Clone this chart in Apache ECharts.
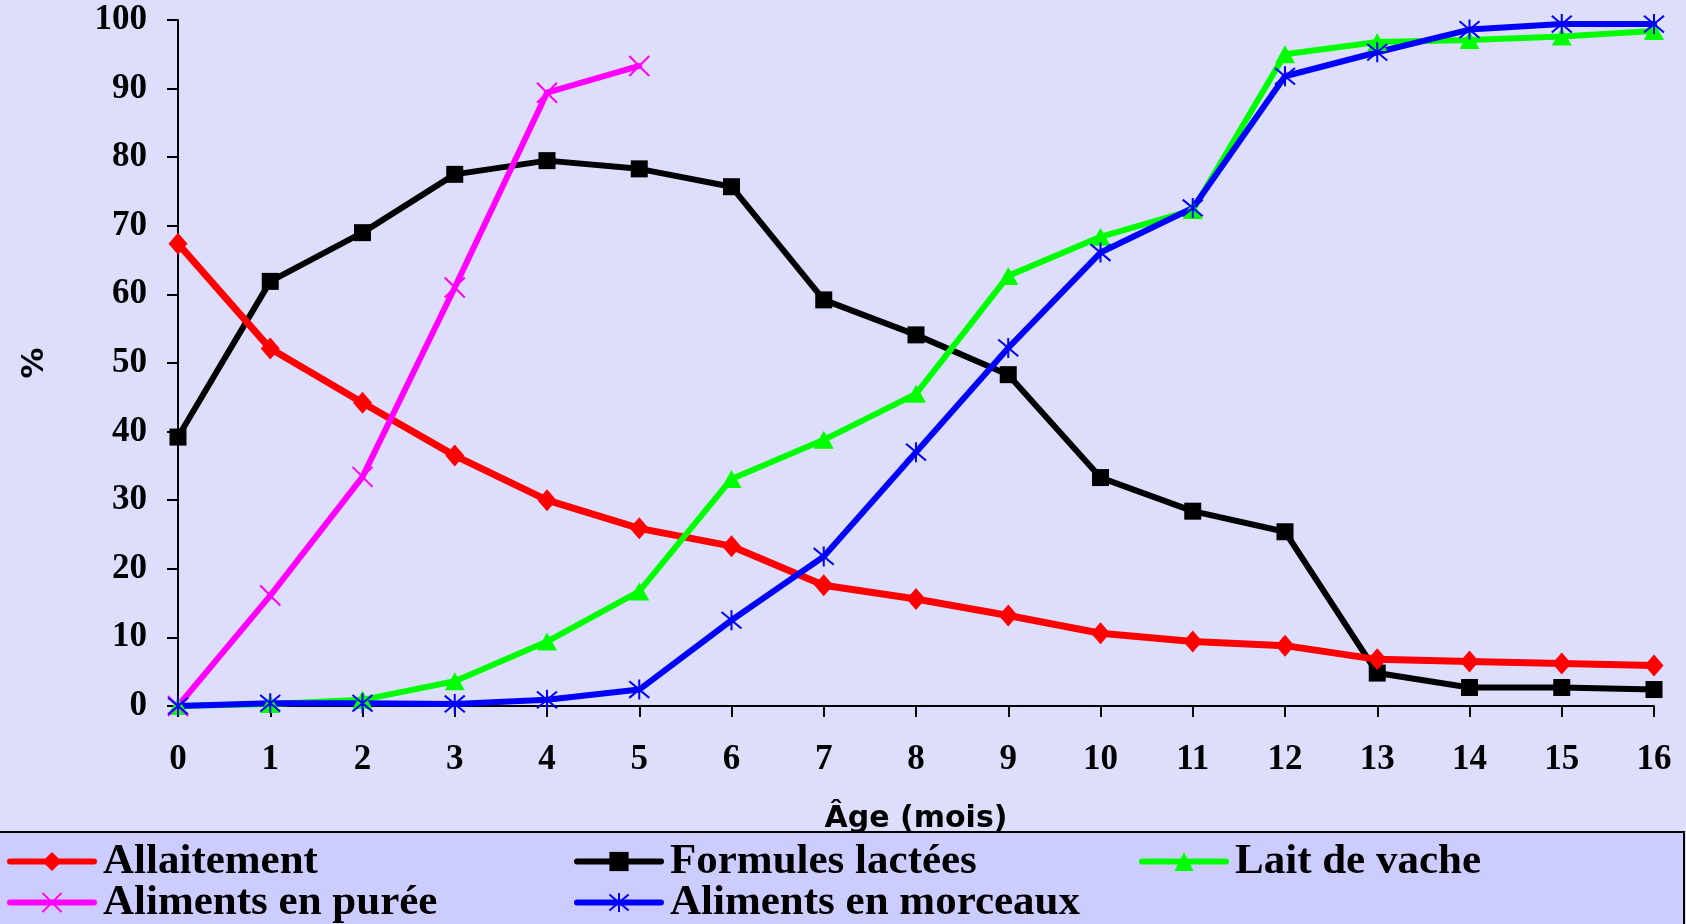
<!DOCTYPE html>
<html>
<head>
<meta charset="utf-8">
<script src="https://cdn.jsdelivr.net/npm/echarts@6/dist/echarts.min.js"></script>
<style>
  html, body { margin: 0; padding: 0; background: #dcdefc; }
  #chart { width: 1686px; height: 924px; }
</style>
</head>
<body>
<div id="chart"></div>
<script>
// mois 0..16
var ages = ['0','1','2','3','4','5','6','7','8','9','10','11','12','13','14','15','16'];

var allaitement = [67.4, 52.1, 44.2, 36.5, 30.0, 25.9, 23.3, 17.6, 15.6, 13.2, 10.6, 9.4, 8.8, 6.8, 6.5, 6.2, 5.9];
var formules    = [39.2, 61.9, 69.0, 77.5, 79.5, 78.3, 75.7, 59.2, 54.1, 48.3, 33.3, 28.4, 25.4, 4.8, 2.7, 2.7, 2.4];
var laitVache   = [0, 0.3, 0.9, 3.6, 9.4, 16.7, 33.1, 38.8, 45.5, 62.7, 68.4, 72.3, 95.0, 96.8, 97.1, 97.6, 98.4];
var puree       = [0, 16.1, 33.4, 61.0, 89.4, 93.3, null, null, null, null, null, null, null, null, null, null, null];
var morceaux    = [0, 0.4, 0.4, 0.3, 0.9, 2.4, 12.5, 21.8, 37.0, 52.2, 66.1, 72.6, 91.8, 95.3, 98.6, 99.4, 99.4];

var yTicks = [0, 10, 20, 30, 40, 50, 60, 70, 80, 90, 100];

var serif = '"Liberation Serif", "Times New Roman", serif';
var sans = '"DejaVu Sans", Verdana, sans-serif';

var chart = echarts.init(document.getElementById('chart'));

function mkLegend(name, left, top) {
  return {
    data: [name],
    left: left,
    top: top,
    z: 60,
    padding: 0,
    itemWidth: 84,
    itemHeight: 24,
    selectedMode: false,
    lineStyle: { width: 6, cap: 'round' },
    textStyle: {
      fontFamily: serif,
      fontWeight: 'bold',
      fontSize: 43,
      color: '#000',
      padding: [0, 0, 0, 4]
    }
  };
}

var option = {
  backgroundColor: '#dcdefc',
  animation: false,
  grid: { left: 178, right: 32, top: 20, bottom: 218 },
  xAxis: {
    type: 'category',
    data: ages,
    boundaryGap: false,
    name: 'Âge (mois)',
    nameLocation: 'middle',
    nameGap: 98,
    nameTextStyle: { fontFamily: sans, fontWeight: 'bold', fontSize: 30, color: '#000' },
    axisLine: { lineStyle: { color: '#000', width: 2 } },
    axisTick: { show: true, alignWithLabel: true, length: 11, lineStyle: { color: '#000', width: 2 } },
    axisLabel: { margin: 36, fontFamily: serif, fontWeight: 'bold', fontSize: 35, color: '#000' },
    splitLine: { show: false }
  },
  yAxis: {
    type: 'value',
    min: 0,
    max: 100,
    interval: 10,
    name: '%',
    nameLocation: 'middle',
    nameGap: 128,
    nameTextStyle: { fontFamily: sans, fontWeight: 'bold', fontSize: 31, color: '#000' },
    axisLine: { show: true, lineStyle: { color: '#000', width: 2 } },
    axisTick: { show: true, length: 11, lineStyle: { color: '#000', width: 2 } },
    axisLabel: {
      margin: 31, fontFamily: serif, fontWeight: 'bold', fontSize: 35, color: '#000',
      formatter: function (v) { return yTicks.indexOf(v) >= 0 ? String(v) : ''; }
    },
    splitLine: { show: false }
  },
  legend: [
    mkLegend('Allaitement', 7, 840),
    mkLegend('Formules lactées', 574, 840),
    mkLegend('Lait de vache', 1139, 840),
    mkLegend('Aliments en purée', 7, 881),
    mkLegend('Aliments en morceaux', 574, 881)
  ],
  graphic: [{
    type: 'rect',
    z: 50,
    shape: { x: -3, y: 832, width: 1687, height: 100 },
    style: { fill: '#ccccff', stroke: '#000', lineWidth: 2 }
  }],
  series: [
    {
      name: 'Formules lactées',
      type: 'line',
      data: formules,
      symbol: 'rect',
      symbolSize: 17,
      lineStyle: { color: '#000000', width: 6, cap: 'round' },
      itemStyle: { color: '#000000' }
    },
    {
      name: 'Allaitement',
      type: 'line',
      data: allaitement,
      symbol: 'diamond',
      symbolSize: [19, 22],
      lineStyle: { color: '#ff0000', width: 7, cap: 'round' },
      itemStyle: { color: '#ff0000' }
    },
    {
      name: 'Lait de vache',
      type: 'line',
      data: laitVache,
      symbol: 'triangle',
      symbolSize: [20, 18],
      lineStyle: { color: '#00ff00', width: 6, cap: 'round' },
      itemStyle: { color: '#00ff00' }
    },
    {
      name: 'Aliments en purée',
      type: 'line',
      data: puree,
      symbol: 'path://M0,0L10,10M10,0L0,10',
      symbolSize: 20,
      lineStyle: { color: '#ff00ff', width: 6, cap: 'round' },
      itemStyle: { color: 'transparent', borderColor: '#ff00ff', borderWidth: 2 }
    },
    {
      name: 'Aliments en morceaux',
      type: 'line',
      data: morceaux,
      symbol: 'path://M0,0L10,10M10,0L0,10M5,-1L5,11',
      symbolSize: 20,
      lineStyle: { color: '#0000ff', width: 6, cap: 'round' },
      itemStyle: { color: 'transparent', borderColor: '#0000ff', borderWidth: 2 }
    }
  ]
};

chart.setOption(option);
</script>
</body>
</html>
